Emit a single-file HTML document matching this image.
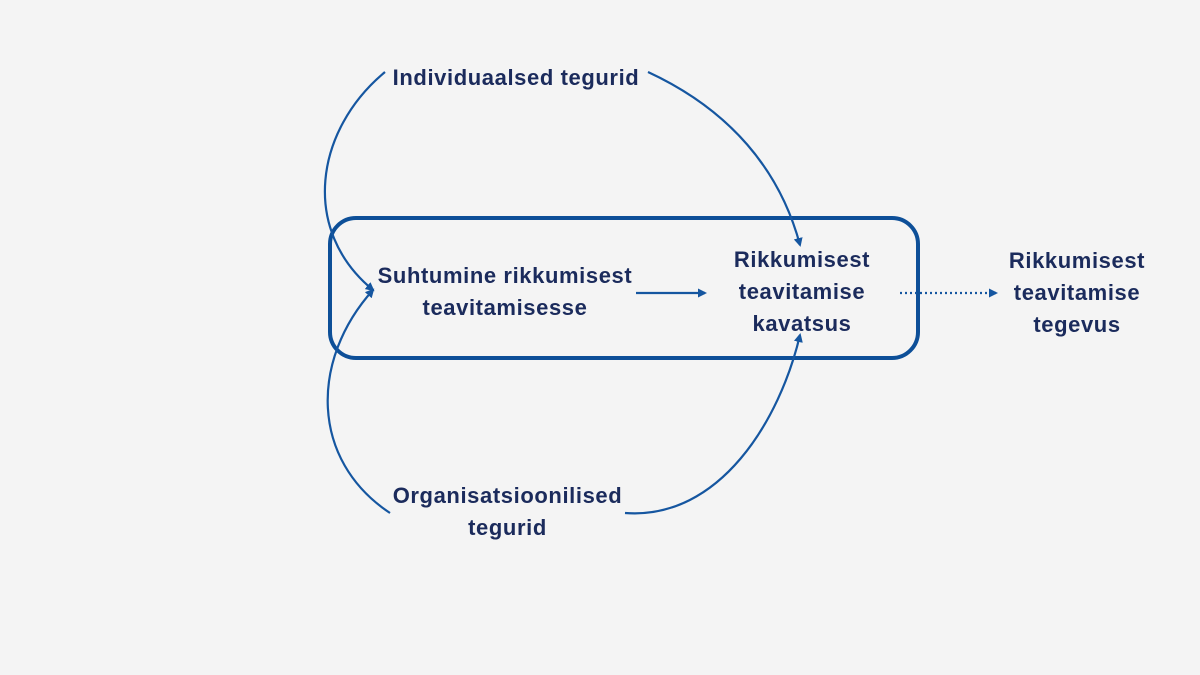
<!DOCTYPE html>
<html><head><meta charset="utf-8"><style>
html,body{margin:0;padding:0;background:#f4f4f4;}
body{width:1200px;height:675px;position:relative;overflow:hidden;font-family:"Liberation Sans",sans-serif;}
.t{position:absolute;color:#1b2b5c;font-weight:bold;font-size:22px;letter-spacing:0.6px;line-height:32px;text-align:center;white-space:nowrap;}
</style></head><body>
<svg width="1200" height="675" style="position:absolute;left:0;top:0">
<defs><marker id="a" markerWidth="9" markerHeight="9" refX="7" refY="4.5" orient="auto" markerUnits="userSpaceOnUse"><path d="M0,0 L9,4.5 L0,9 z" fill="#1556a0"/></marker></defs>
<rect x="330" y="218" width="588" height="140" rx="26" fill="none" stroke="#0d4f98" stroke-width="4"/>
<g fill="none" stroke="#1556a0" stroke-width="2.2">
<path d="M385,72 C315,130 300,230 373,290" marker-end="url(#a)"/>
<path d="M390,513 C310,460 310,360 373,290" marker-end="url(#a)"/>
<path d="M648,72 C730,110 780,170 800,245" marker-end="url(#a)"/>
<path d="M625,513 C720,520 780,420 800,335" marker-end="url(#a)"/>
<path d="M636,293 L705,293" marker-end="url(#a)"/>
<path d="M900,293 L996,293" stroke-dasharray="2,3" marker-end="url(#a)"/>
</g>
</svg>
<div class="t" style="left:366px;top:62px;width:300px">Individuaalsed tegurid</div>
<div class="t" style="left:355px;top:260px;width:300px">Suhtumine rikkumisest<br>teavitamisesse</div>
<div class="t" style="left:702px;top:244px;width:200px">Rikkumisest<br>teavitamise<br>kavatsus</div>
<div class="t" style="left:977px;top:245px;width:200px">Rikkumisest<br>teavitamise<br>tegevus</div>
<div class="t" style="left:360px;top:480px;width:295px">Organisatsioonilised<br>tegurid</div>
</body></html>
